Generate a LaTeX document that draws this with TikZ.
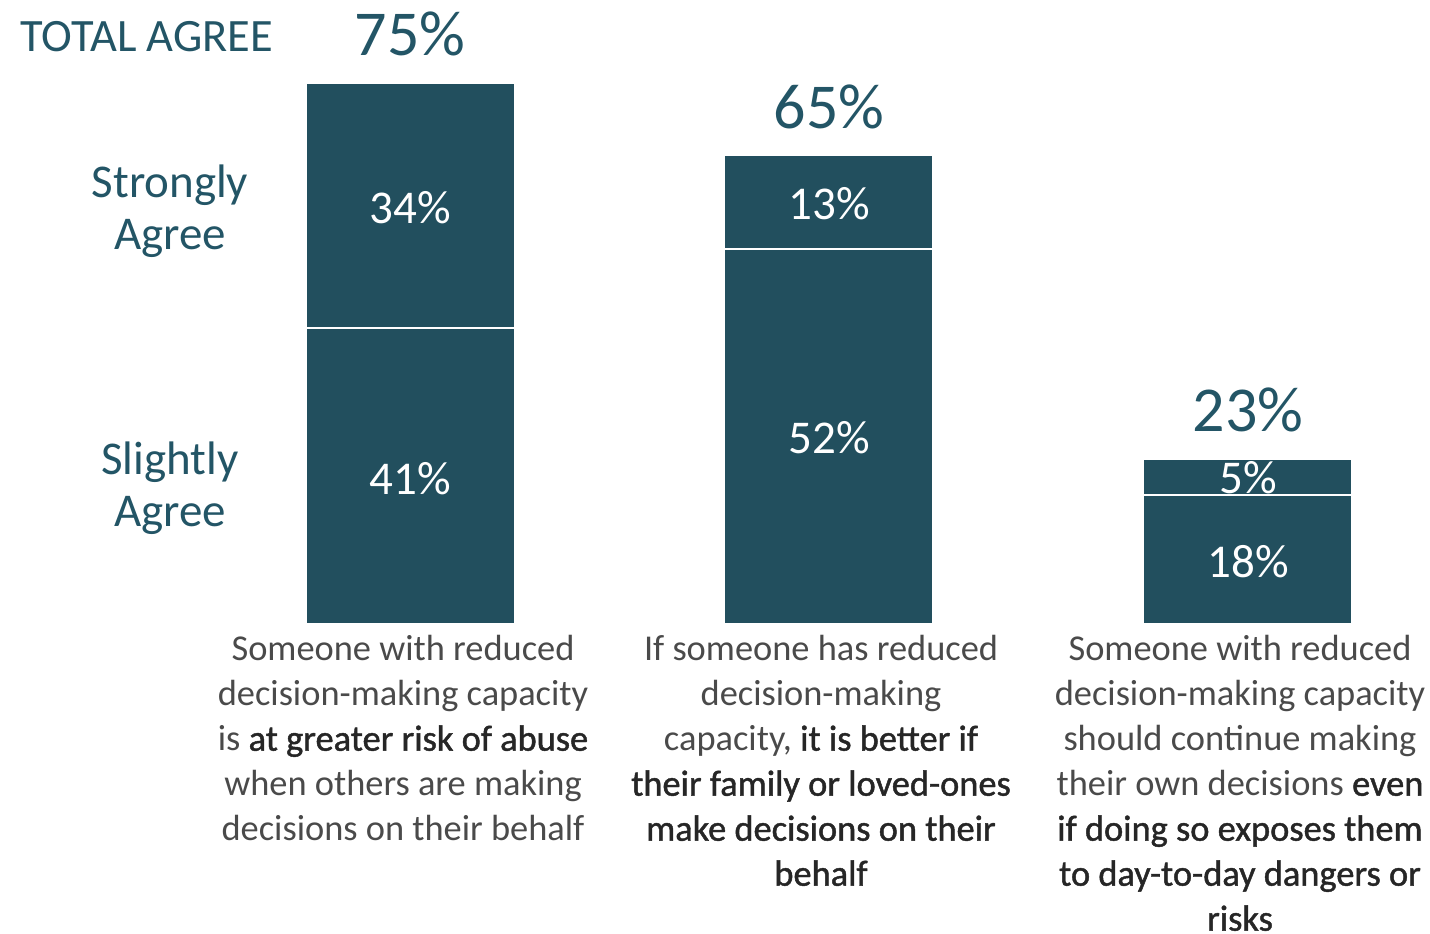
\documentclass[tikz,border=0pt]{standalone}
\usepackage{fontspec}
\setmainfont{Carlito}
\newfontfamily\capemfont{Carlito}[FakeBold=1.2]
\definecolor{barcol}{HTML}{224F5E}
\definecolor{headcol}{HTML}{235566}
\definecolor{capcol}{HTML}{4A4A4A}
\definecolor{capemcol}{HTML}{262626}
\tikzstyle{pct}=[text=headcol,inner sep=0pt,font=\fontsize{32}{36}\selectfont]
\tikzstyle{inpct}=[text=white,inner sep=0pt,font=\fontsize{23.5}{26}\selectfont]
\tikzstyle{side}=[text=headcol,align=center,inner sep=0pt,font=\fontsize{23.5}{26}\selectfont]
\tikzstyle{caption}=[text=capcol,align=center,anchor=north,inner sep=0pt,font=\fontsize{18.2}{22.5}\selectfont]
\tikzstyle{divider}=[white,line width=1pt]
\newcommand{\capem}[1]{{\capemfont\color{capemcol}#1}}

\begin{document}
\begin{tikzpicture}[x=0.5pt,y=-0.5pt]
        \useasboundingbox (0,0) rectangle (1430,933);
        % bars
        \fill[barcol] (307,84) rectangle (514,623);
        \fill[barcol] (725,156) rectangle (932,623);
        \fill[barcol] (1144,460) rectangle (1351,623);
        \coordinate (d1l) at (307,328);
        \coordinate (d1r) at (514,328);
        \coordinate (d2l) at (725,249);
        \coordinate (d2r) at (932,249);
        \coordinate (d3l) at (1144,495);
        \coordinate (d3r) at (1351,495);
        \draw[divider] (d1l) -- (d1r);
        \draw[divider] (d2l) -- (d2r);
        \draw[divider] (d3l) -- (d3r);
        % totals
        \node[text=headcol,inner sep=0pt,anchor=west,font=\fontsize{23.2}{26}\selectfont] (total) at (20,37) {TOTAL AGREE};
        \node[pct] (tot1) at (410,34) {75\%};
        \node[pct] (tot2) at (829,107) {65\%};
        \node[pct] (tot3) at (1248,410) {23\%};
        % segment values
        \node[inpct] (sa1) at (410,208) {34\%};
        \node[inpct] (la1) at (410,479) {41\%};
        \node[inpct] (sa2) at (829,204) {13\%};
        \node[inpct] (la2) at (829,438) {52\%};
        \node[inpct] (sa3) at (1248,478) {5\%};
        \node[inpct] (la3) at (1248,562) {18\%};
        % row labels
        \node[side] (strong) at (170,211) {Strongly\\Agree};
        \node[side] (slight) at (170,488) {Slightly\\Agree};
        % statements
        \node[caption] (cap1) at (403,635) {Someone with reduced\\decision-making capacity\\is \capem{at greater risk of abuse}\\when others are making\\decisions on their behalf};
        \node[caption] (cap2) at (821,635) {If someone has reduced\\decision-making\\capacity, \capem{it is better if}\\\capem{their family or loved-ones}\\\capem{make decisions on their}\\\capem{behalf}};
        \node[caption] (cap3) at (1240,635) {Someone with reduced\\decision-making capacity\\should continue making\\their own decisions \capem{even}\\\capem{if doing so exposes them}\\\capem{to day-to-day dangers or}\\\capem{risks}};
    \end{tikzpicture}
\end{document}
